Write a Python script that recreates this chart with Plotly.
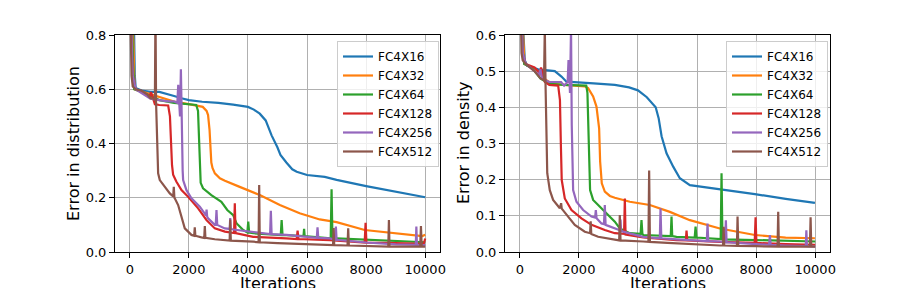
import plotly.graph_objects as go

# ---------------- data (iteration, value) ----------------
series_names = ["FC4X16", "FC4X32", "FC4X64", "FC4X128", "FC4X256", "FC4X512"]
series_colors = ["#1f77b4", "#ff7f0e", "#2ca02c", "#d62728", "#9467bd", "#8c564b"]
x_ticks = [0, 2000, 4000, 6000, 8000, 10000]
x_ticklabels = ["0", "2000", "4000", "6000", "8000", "10000"]
dist_ticks = [0.0, 0.2, 0.4, 0.6, 0.8]
dens_ticks = [0.0, 0.1, 0.2, 0.3, 0.4, 0.5, 0.6]

# Left panel: error in distribution
dist_fc4x16 = [(0, 1.0), (100, 0.9), (140, 0.85), (170, 0.65), (200, 0.605), (400, 0.595), (700, 0.59),
               (1000, 0.59), (1200, 0.585), (1500, 0.575), (1750, 0.567), (2000, 0.56), (2450, 0.554),
               (3000, 0.55), (3500, 0.543), (4000, 0.535), (4200, 0.525), (4400, 0.51), (4600, 0.485),
               (4800, 0.43), (5000, 0.385), (5100, 0.358), (5300, 0.33), (5500, 0.305), (5650, 0.296),
               (6000, 0.284), (6600, 0.277), (7000, 0.266), (8000, 0.243), (9000, 0.223), (10000, 0.202)]
dist_fc4x32 = [(0, 1.0), (80, 0.9), (130, 0.75), (160, 0.6), (300, 0.595), (600, 0.585), (1000, 0.57),
               (1500, 0.555), (2000, 0.545), (2300, 0.54), (2470, 0.535), (2600, 0.52), (2650, 0.505),
               (2700, 0.45), (2730, 0.38), (2760, 0.33), (2800, 0.31), (2880, 0.29), (3050, 0.272),
               (3220, 0.263), (3700, 0.241), (4400, 0.21), (5080, 0.173), (5750, 0.143), (6430, 0.12),
               (7000, 0.11), (7950, 0.081), (9000, 0.068), (9900, 0.059), (10000, 0.064)]
dist_fc4x64 = [(0, 1.0), (60, 0.9), (110, 0.7), (150, 0.6), (400, 0.59), (700, 0.575), (1000, 0.56),
               (1500, 0.55), (2000, 0.545), (2250, 0.542), (2310, 0.52), (2340, 0.4), (2370, 0.29),
               (2400, 0.255), (2480, 0.235), (2760, 0.21), (3100, 0.185), (3220, 0.167), (3300, 0.155),
               (3500, 0.136), (3610, 0.106), (3840, 0.081), (3980, 0.072), (4010, 0.112), (4040, 0.072),
               (4180, 0.069), (5110, 0.062), (5140, 0.118), (5170, 0.062), (5300, 0.062), (5880, 0.059),
               (5900, 0.085), (5920, 0.059), (6000, 0.058), (6800, 0.05), (6830, 0.231), (6860, 0.05),
               (7000, 0.05), (8000, 0.046), (9000, 0.042), (10000, 0.036)]
dist_fc4x128 = [(0, 1.0), (50, 0.85), (100, 0.65), (200, 0.6), (500, 0.585), (680, 0.575), (720, 0.59),
                (850, 0.545), (1000, 0.542), (1300, 0.54), (1360, 0.5), (1400, 0.38), (1430, 0.32),
                (1467, 0.285), (1580, 0.259), (1750, 0.228), (1975, 0.204), (2314, 0.161), (2596, 0.118),
                (2878, 0.087), (3220, 0.075), (3530, 0.07), (3555, 0.18), (3580, 0.07), (4176, 0.056),
                (5306, 0.05), (5650, 0.048), (5680, 0.079), (5710, 0.048), (6773, 0.044), (7950, 0.035),
                (7981, 0.108), (8010, 0.035), (9000, 0.033), (9950, 0.03), (10000, 0.05)]
dist_fc4x256 = [(0, 1.0), (50, 0.8), (100, 0.65), (200, 0.6), (500, 0.58), (700, 0.565), (1000, 0.56),
                (1300, 0.555), (1500, 0.555), (1610, 0.55), (1640, 0.616), (1670, 0.55), (1700, 0.5),
                (1730, 0.674), (1760, 0.4), (1790, 0.3), (1806, 0.265), (1919, 0.228), (2088, 0.198),
                (2370, 0.167), (2580, 0.135), (2600, 0.156), (2620, 0.13), (2652, 0.124), (2878, 0.1),
                (2910, 0.1), (2935, 0.155), (2960, 0.1), (3217, 0.087), (3380, 0.085), (3400, 0.125),
                (3420, 0.085), (3499, 0.083), (4176, 0.075), (4750, 0.066), (4775, 0.152), (4800, 0.066),
                (5306, 0.063), (6330, 0.052), (6355, 0.091), (6380, 0.052), (6773, 0.05), (6950, 0.045),
                (6976, 0.094), (7000, 0.045), (8000, 0.035), (9000, 0.028), (9680, 0.026), (9700, 0.094),
                (9720, 0.026), (10000, 0.025)]
dist_fc4x512 = [(0, 1.0), (30, 0.8), (60, 0.65), (100, 0.61), (200, 0.6), (400, 0.595), (600, 0.58),
                (700, 0.567), (800, 0.565), (850, 0.56), (870, 0.9), (890, 0.55), (910, 0.45), (930, 0.33),
                (960, 0.29), (1016, 0.265), (1185, 0.241), (1355, 0.216), (1470, 0.205), (1490, 0.24),
                (1510, 0.2), (1524, 0.198), (1637, 0.173), (1750, 0.13), (1862, 0.087), (2088, 0.063),
                (2180, 0.06), (2200, 0.091), (2220, 0.06), (2427, 0.054), (2520, 0.052), (2540, 0.096),
                (2560, 0.052), (2878, 0.047), (3217, 0.044), (3380, 0.042), (3400, 0.12), (3420, 0.042),
                (4176, 0.038), (4360, 0.036), (4380, 0.247), (4400, 0.036), (5000, 0.033), (6000, 0.03),
                (6773, 0.026), (6880, 0.025), (6900, 0.088), (6920, 0.025), (7370, 0.024), (7393, 0.087),
                (7415, 0.024), (8000, 0.022), (8750, 0.02), (8771, 0.118), (8790, 0.02), (9830, 0.02),
                (9855, 0.096), (9880, 0.02), (10000, 0.02)]

# Right panel: error in density
dens_fc4x16 = [(0, 0.8), (100, 0.65), (135, 0.6), (170, 0.53), (250, 0.515), (621, 0.505), (1185, 0.5),
               (1411, 0.485), (1580, 0.471), (1975, 0.468), (2500, 0.466), (3217, 0.462), (3700, 0.455),
               (4000, 0.447), (4300, 0.428), (4600, 0.4), (4700, 0.37), (4800, 0.32), (4967, 0.273),
               (5193, 0.236), (5418, 0.204), (5757, 0.185), (6200, 0.18), (6604, 0.177), (7000, 0.172),
               (7958, 0.16), (9000, 0.147), (9990, 0.136)]
dens_fc4x32 = [(0, 0.8), (80, 0.65), (130, 0.55), (160, 0.52), (400, 0.51), (600, 0.5), (900, 0.475),
               (1100, 0.465), (1500, 0.462), (2000, 0.46), (2200, 0.458), (2313, 0.453), (2483, 0.43),
               (2596, 0.402), (2686, 0.342), (2720, 0.25), (2776, 0.19), (2878, 0.167), (3050, 0.155),
               (3217, 0.15), (3725, 0.139), (4402, 0.13), (5080, 0.111), (5757, 0.088), (6434, 0.072),
               (6773, 0.065), (7958, 0.047), (9000, 0.04), (9990, 0.038)]
dens_fc4x64 = [(0, 0.8), (60, 0.65), (110, 0.55), (150, 0.52), (400, 0.51), (700, 0.48), (1000, 0.465),
               (1500, 0.462), (2000, 0.46), (2250, 0.46), (2290, 0.44), (2320, 0.33), (2348, 0.22),
               (2380, 0.171), (2483, 0.144), (2709, 0.125), (2991, 0.102), (3217, 0.084), (3386, 0.065),
               (3725, 0.052), (4090, 0.05), (4120, 0.088), (4150, 0.05), (4176, 0.047), (5110, 0.044),
               (5136, 0.098), (5160, 0.044), (5306, 0.042), (5920, 0.04), (5950, 0.07), (5980, 0.04),
               (6800, 0.036), (6829, 0.218), (6860, 0.035), (8000, 0.033), (9000, 0.031), (10000, 0.029)]
dens_fc4x128 = [(0, 0.8), (50, 0.65), (100, 0.55), (200, 0.52), (500, 0.51), (680, 0.495), (720, 0.51),
                (850, 0.47), (1000, 0.462), (1300, 0.46), (1360, 0.42), (1390, 0.3), (1420, 0.199),
                (1524, 0.148), (1750, 0.116), (2088, 0.093), (2427, 0.075), (2878, 0.061), (3217, 0.052),
                (3530, 0.05), (3556, 0.148), (3580, 0.048), (4176, 0.04), (5306, 0.033), (5620, 0.032),
                (5644, 0.059), (5670, 0.032), (6773, 0.028), (7950, 0.025), (7981, 0.096), (8010, 0.025),
                (9000, 0.022), (10000, 0.02)]
dens_fc4x256 = [(0, 0.8), (50, 0.65), (100, 0.55), (200, 0.52), (500, 0.5), (650, 0.49), (700, 0.505),
                (750, 0.48), (1000, 0.47), (1400, 0.47), (1500, 0.46), (1620, 0.47), (1650, 0.531),
                (1680, 0.47), (1700, 0.44), (1735, 0.62), (1760, 0.35), (1806, 0.171), (1919, 0.139),
                (2145, 0.116), (2427, 0.098), (2550, 0.095), (2574, 0.116), (2600, 0.093), (2765, 0.079),
                (2850, 0.077), (2878, 0.13), (2905, 0.075), (3217, 0.065), (3386, 0.06), (3409, 0.09),
                (3430, 0.058), (4176, 0.042), (4740, 0.038), (4764, 0.121), (4790, 0.038), (5306, 0.035),
                (6330, 0.03), (6355, 0.079), (6380, 0.03), (6773, 0.029), (6950, 0.027), (6976, 0.088),
                (7000, 0.027), (8000, 0.022), (8440, 0.02), (8466, 0.047), (8490, 0.02), (9000, 0.018),
                (9680, 0.016), (9700, 0.06), (9720, 0.016), (10000, 0.015)]
dens_fc4x512 = [(0, 0.8), (30, 0.65), (60, 0.55), (100, 0.53), (200, 0.52), (500, 0.5), (700, 0.48),
                (820, 0.475), (847, 0.62), (875, 0.45), (904, 0.3), (930, 0.218), (1016, 0.171),
                (1129, 0.144), (1355, 0.121), (1400, 0.135), (1420, 0.12), (1637, 0.098), (1862, 0.075),
                (2201, 0.056), (2380, 0.052), (2400, 0.085), (2420, 0.05), (2652, 0.042), (3217, 0.033),
                (3365, 0.032), (3386, 0.102), (3410, 0.032), (4176, 0.029), (4355, 0.028), (4379, 0.225),
                (4405, 0.028), (5000, 0.025), (6000, 0.02), (6773, 0.018), (6880, 0.018), (6900, 0.07),
                (6920, 0.018), (7350, 0.017), (7371, 0.098), (7395, 0.017), (8000, 0.016), (8725, 0.015),
                (8747, 0.111), (8770, 0.015), (9820, 0.015), (9843, 0.096), (9865, 0.015), (10000, 0.015)]

dist_series = [dist_fc4x16, dist_fc4x32, dist_fc4x64, dist_fc4x128, dist_fc4x256, dist_fc4x512]
dens_series = [dens_fc4x16, dens_fc4x32, dens_fc4x64, dens_fc4x128, dens_fc4x256, dens_fc4x512]

# ---------------- figure ----------------
# The page body has an 8px default margin, so the figure is 8px smaller and
# window-pixel positions are converted to figure fractions with that offset.
OFF = 8
W, H = 921 - OFF, 288 - OFF
FONT = "DejaVu Sans"

fig = go.Figure()
for data, xa, ya, lg in [(dist_series, "x", "y", "legend"), (dens_series, "x2", "y2", "legend2")]:
    for name, color, pts in zip(series_names, series_colors, data):
        fig.add_trace(go.Scatter(
            x=[p[0] for p in pts], y=[p[1] for p in pts], mode="lines", name=name,
            line=dict(color=color, width=2.2), xaxis=xa, yaxis=ya, legend=lg,
            hoverinfo="skip"))


def px_x(p):
    return (p - OFF) / W


def px_y(p):
    return 1 - (p - OFF) / H


common_axis = dict(showgrid=True, gridcolor="#b0b0b0", gridwidth=0.8, showline=True, mirror=True,
                   linecolor="black", linewidth=1, ticks="outside", ticklen=5, tickcolor="black",
                   tickfont=dict(family=FONT, size=13, color="black"), zeroline=False,
                   automargin=False)

legend_style = dict(xanchor="left", yanchor="top", bgcolor="rgba(255,255,255,0.8)",
                    bordercolor="#cccccc", borderwidth=1,
                    font=dict(family=FONT, size=12, color="black"))
title_font = dict(family=FONT, size=16, color="black")

fig.update_layout(
    template="none",
    width=W, height=H, margin=dict(l=0, r=0, t=0, b=0, pad=0, autoexpand=False),
    paper_bgcolor="white", plot_bgcolor="white",
    font=dict(family=FONT, color="black"),
    xaxis=dict(domain=[px_x(115), px_x(440)], range=[-500, 10500], tickvals=x_ticks,
               ticktext=x_ticklabels, anchor="y", **common_axis),
    yaxis=dict(domain=[px_y(252), px_y(35)], range=[0, 0.8], tickvals=dist_ticks, tickformat=".1f",
               anchor="x", **common_axis),
    xaxis2=dict(domain=[px_x(505), px_x(830)], range=[-500, 10500], tickvals=x_ticks,
                ticktext=x_ticklabels, anchor="y2", **common_axis),
    yaxis2=dict(domain=[px_y(252), px_y(35)], range=[0, 0.6], tickvals=dens_ticks, tickformat=".1f",
                anchor="x2", **common_axis),
    legend=dict(x=px_x(337), y=px_y(41), **legend_style),
    legend2=dict(x=px_x(726), y=px_y(41), **legend_style),
    showlegend=True,
    annotations=[
        dict(text="Error in distribution", x=px_x(73), y=px_y(144), xref="paper", yref="paper",
             textangle=-90, showarrow=False, font=title_font, xanchor="center", yanchor="middle"),
        dict(text="Error in density", x=px_x(463), y=px_y(143), xref="paper", yref="paper",
             textangle=-90, showarrow=False, font=title_font, xanchor="center", yanchor="middle"),
        dict(text="Iterations", x=px_x(277.5), y=px_y(283), xref="paper", yref="paper",
             showarrow=False, font=title_font, xanchor="center", yanchor="middle"),
        dict(text="Iterations", x=px_x(667.5), y=px_y(283), xref="paper", yref="paper",
             showarrow=False, font=title_font, xanchor="center", yanchor="middle"),
    ],
)

fig.write_html("out.html")
